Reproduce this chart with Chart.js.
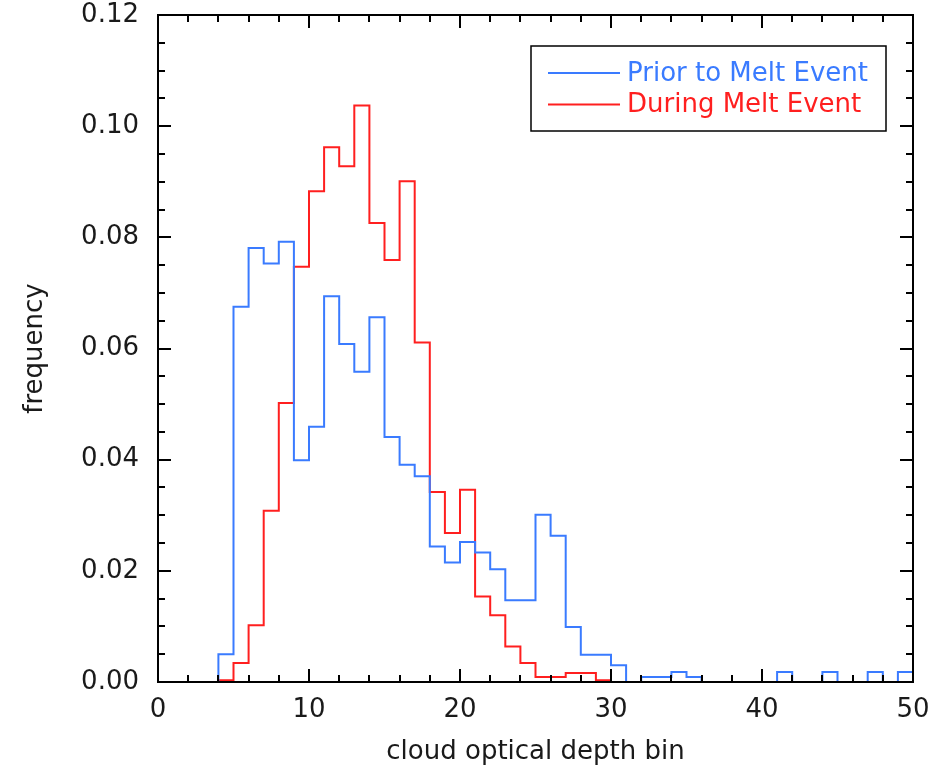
<!DOCTYPE html>
<html>
<head>
<meta charset="utf-8">
<script src="https://cdn.jsdelivr.net/npm/chart.js@4"></script>
<style>
  html, body { margin: 0; padding: 0; background: #fff; }
  #wrap { width: 943px; height: 768px; }
</style>
</head>
<body>
<div id="wrap"><canvas id="histChart" width="943" height="768"></canvas></div>
<script>
// frequency per optical depth bin, bins [k, k+1) for k = 0..49
const priorFreq = [
  0, 0, 0, 0, 0.0050, 0.0675, 0.0781, 0.0753, 0.0792, 0.0399,
  0.0459, 0.0694, 0.0608, 0.0558, 0.0656, 0.0441, 0.0391, 0.0370, 0.0244, 0.0215,
  0.0252, 0.0233, 0.0203, 0.0147, 0.0147, 0.0301, 0.0263, 0.0099, 0.0049, 0.0049,
  0.0030, 0, 0.0009, 0.0009, 0.0018, 0.0009, 0, 0, 0, 0,
  0, 0.0018, 0, 0, 0.0018, 0, 0, 0.0018, 0, 0.0018
];
const duringFreq = [
  0, 0, 0, 0, 0.0003, 0.0034, 0.0102, 0.0308, 0.0502, 0.0747,
  0.0883, 0.0962, 0.0928, 0.1037, 0.0826, 0.0759, 0.0901, 0.0611, 0.0342, 0.0268,
  0.0346, 0.0154, 0.0120, 0.0064, 0.0034, 0.0009, 0.0009, 0.0016, 0.0016, 0.0003,
  0, 0, 0, 0, 0, 0, 0, 0, 0, 0,
  0, 0, 0, 0, 0, 0, 0, 0, 0, 0
];
const seriesNames = ["Prior to Melt Event", "During Melt Event"];
const seriesColors = ["#3a7bff", "#ff1f1f"];
const xTicks = [0, 10, 20, 30, 40, 50];
const yTicks = [0, 0.02, 0.04, 0.06, 0.08, 0.10, 0.12];

// step points: left edge of every bin, plus closing right edge
function toSteps(vals) {
  const pts = vals.map((v, k) => ({ x: k, y: v }));
  pts.push({ x: vals.length, y: vals[vals.length - 1] });
  return pts;
}

const FONT = "'DejaVu Sans', sans-serif";
const TEXT = "#1a1a1a";

const framePlugin = {
  id: "frame",
  afterDatasetsDraw(chart) {
    const { ctx, chartArea: a, scales } = chart;
    ctx.save();
    ctx.strokeStyle = "#000";
    ctx.lineWidth = 2;
    ctx.strokeRect(a.left, a.top, a.right - a.left, a.bottom - a.top);
    ctx.beginPath();
    for (let v = 0; v <= 50; v += 2) {
      const px = Math.round(scales.x.getPixelForValue(v));
      const len = v % 10 === 0 ? 13 : 7;
      ctx.moveTo(px, a.bottom); ctx.lineTo(px, a.bottom - len);
      ctx.moveTo(px, a.top); ctx.lineTo(px, a.top + len);
    }
    for (let i = 0; i <= 24; i++) {
      const py = Math.round(scales.y.getPixelForValue(i * 0.005));
      const len = i % 4 === 0 ? 13 : 7;
      ctx.moveTo(a.left, py); ctx.lineTo(a.left + len, py);
      ctx.moveTo(a.right, py); ctx.lineTo(a.right - len, py);
    }
    ctx.stroke();
    ctx.restore();
  },
  afterDraw(chart) {
    const ctx = chart.ctx;
    ctx.save();
    ctx.strokeStyle = "#000";
    ctx.lineWidth = 1.5;
    ctx.strokeRect(531, 46, 355, 85);
    ctx.font = "26px " + FONT;
    ctx.textBaseline = "middle";
    chart.data.datasets.forEach((ds, i) => {
      const y = 73 + i * 31.5;
      ctx.strokeStyle = ds.borderColor;
      ctx.lineWidth = 2;
      ctx.beginPath();
      ctx.moveTo(548, y); ctx.lineTo(620, y);
      ctx.stroke();
      ctx.fillStyle = ds.borderColor;
      ctx.fillText(ds.label, 627, y + 1);
    });
    ctx.restore();
  }
};

new Chart(document.getElementById("histChart"), {
  type: "line",
  data: {
    datasets: [
      { label: seriesNames[0], data: toSteps(priorFreq), borderColor: seriesColors[0] },
      { label: seriesNames[1], data: toSteps(duringFreq), borderColor: seriesColors[1] }
    ]
  },
  options: {
    responsive: false,
    animation: false,
    layout: { padding: { left: 0, right: 30, top: 15, bottom: 0 } },
    elements: {
      line: { stepped: "before", borderWidth: 2, tension: 0, fill: false },
      point: { radius: 0 }
    },
    plugins: { legend: { display: false }, tooltip: { enabled: false } },
    scales: {
      x: {
        type: "linear",
        min: 0, max: 50,
        afterBuildTicks: s => { s.ticks = xTicks.map(v => ({ value: v })); },
        afterFit: s => { s.height = 86; s.paddingLeft = 0; s.paddingRight = 0; },
        grid: { display: false },
        border: { display: false },
        ticks: { color: TEXT, padding: 5, maxRotation: 0, font: { family: FONT, size: 26 } },
        title: {
          display: true, text: "cloud optical depth bin", color: TEXT,
          font: { family: FONT, size: 26 }, padding: { top: 0, bottom: 0 }
        }
      },
      y: {
        min: 0, max: 0.12,
        afterBuildTicks: s => { s.ticks = yTicks.map(v => ({ value: v })); },
        afterFit: s => { s.width = 158; s.paddingTop = 0; s.paddingBottom = 0; },
        grid: { display: false },
        border: { display: false },
        ticks: {
          color: TEXT, padding: 11, font: { family: FONT, size: 26 },
          callback: v => v.toFixed(2)
        },
        title: {
          display: true, text: "frequency", color: TEXT,
          font: { family: FONT, size: 26 }, padding: { top: 20, bottom: 0 }
        }
      }
    }
  },
  plugins: [framePlugin]
});
</script>
</body>
</html>
